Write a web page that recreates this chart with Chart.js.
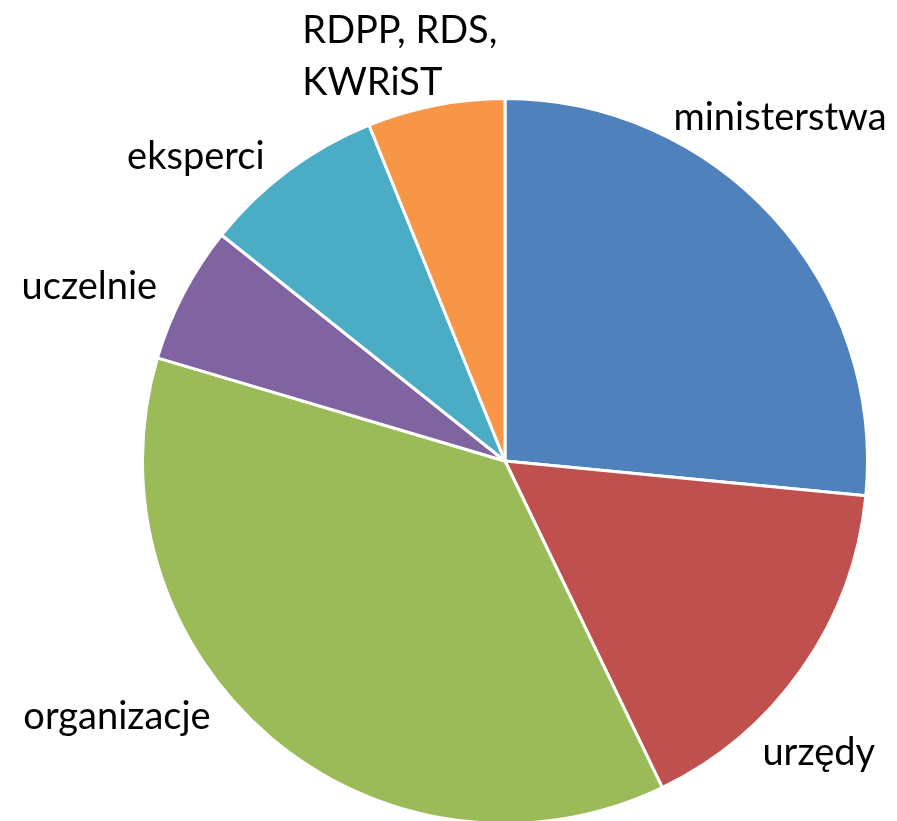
<!DOCTYPE html>
<html>
<head>
<meta charset="utf-8">
<script src="https://cdn.jsdelivr.net/npm/chart.js@4.4.1/dist/chart.umd.min.js"></script>
<style>
  html, body { margin: 0; padding: 0; background: #fff; overflow: hidden; }
  #wrap { position: relative; width: 897px; height: 840px; }
</style>
</head>
<body>
<div id="wrap"><canvas id="pieChart"></canvas></div>
<script>
// values (share of answers)
const categories = ['ministerstwa', 'urzędy', 'organizacje', 'uczelnie', 'eksperci', 'RDPP, RDS,\nKWRiST'];
const counts = [13, 8, 18, 3, 4, 3];
const colors = ['#4F81BD', '#C0504D', '#9BBB59', '#8064A2', '#4BACC6', '#F79646'];

// nudges for the outside labels, from a point at 1.2 * radius on the slice's mid angle
const labelNudge = [[-47, -51], [-43, 43], [-106, -75], [-30, 27], [-49, 44], [-22, 23]];

const outsideLabels = {
  id: 'outsideLabels',
  afterDraw(chart) {
    const c = chart.ctx;
    const meta = chart.getDatasetMeta(0);
    c.save();
    c.font = '38px Lato';
    c.fillStyle = '#000';
    c.textAlign = 'center';
    c.textBaseline = 'middle';
    meta.data.forEach((arc, i) => {
      const p = arc.getProps(['x', 'y', 'startAngle', 'endAngle', 'outerRadius'], true);
      const mid = (p.startAngle + p.endAngle) / 2;
      const r = p.outerRadius * 1.2;
      const x = p.x + Math.cos(mid) * r + labelNudge[i][0];
      const y = p.y + Math.sin(mid) * r + labelNudge[i][1];
      const lines = categories[i].split('\n');
      const lh = 52;
      if (lines.length > 1) {
        c.textAlign = 'left';
        const w = Math.max(...lines.map(l => c.measureText(l).width));
        lines.forEach((l, k) => c.fillText(l, x - w / 2, y + (k - (lines.length - 1) / 2) * lh));
        c.textAlign = 'center';
      } else {
        c.fillText(lines[0], x, y);
      }
    });
    c.restore();
  }
};

new Chart(document.getElementById('pieChart'), {
  type: 'pie',
  data: {
    labels: categories,
    datasets: [{
      data: counts,
      backgroundColor: colors,
      borderColor: '#fff',
      borderWidth: 3,
      hoverOffset: 0
    }]
  },
  options: {
    responsive: true,
    maintainAspectRatio: false,
    animation: false,
    layout: { padding: { left: 141, right: 28, top: 97, bottom: 15 } },
    plugins: {
      legend: { display: false },
      tooltip: { enabled: false }
    }
  },
  plugins: [outsideLabels]
});
</script>
</body>
</html>
